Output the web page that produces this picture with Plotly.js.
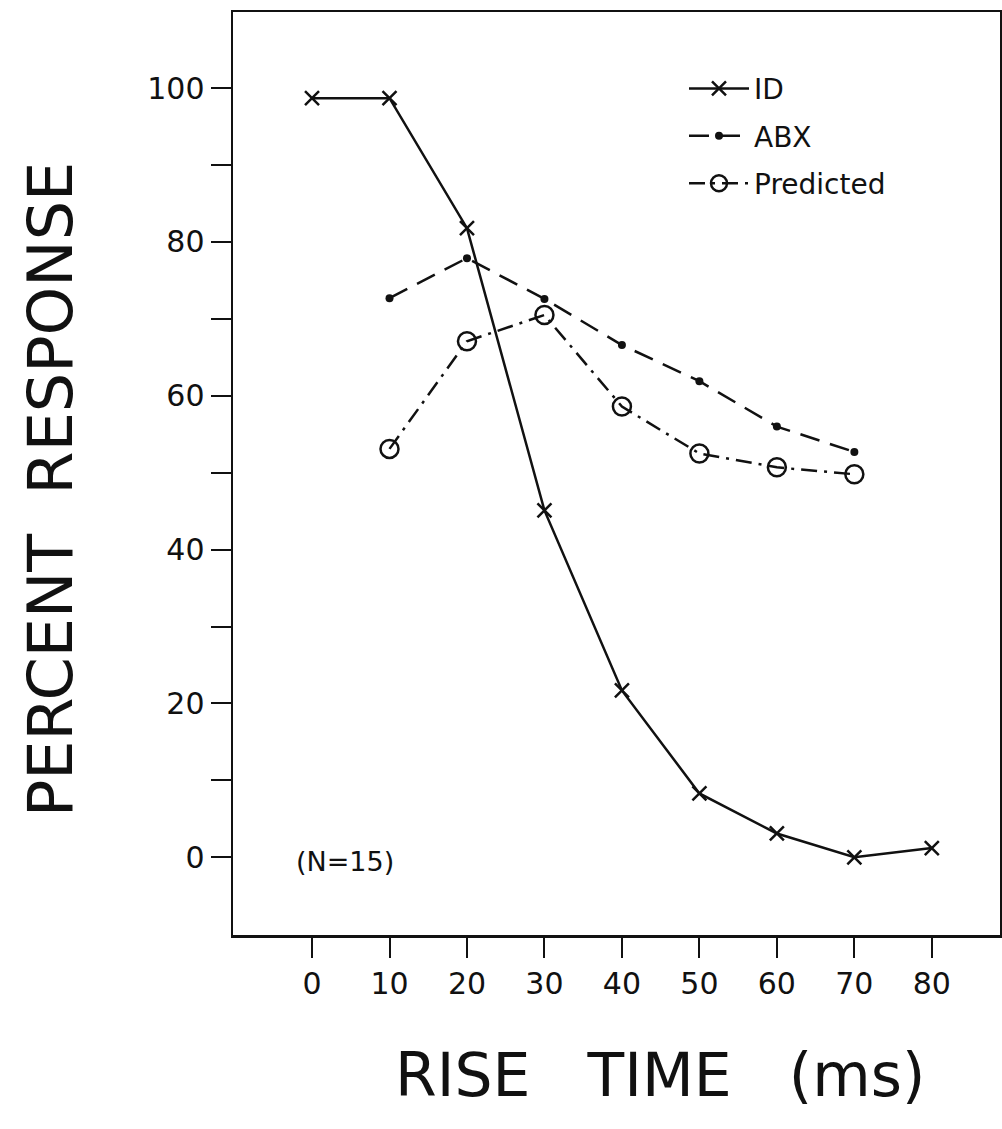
<!DOCTYPE html>
<html>
<head>
<meta charset="utf-8">
<script src="https://cdn.plot.ly/plotly-3.0.1.min.js"></script>
<style>html,body{margin:0;padding:0;background:#fff;}#chart{width:1002px;height:1129px;}</style>
</head>
<body>
<div id="chart"></div>
<script>
var riseTime = [0, 10, 20, 30, 40, 50, 60, 70, 80];
var idValues = [98.7, 98.7, 81.8, 45.1, 21.7, 8.3, 3.1, 0.0, 1.2];
var abxTime = [10, 20, 30, 40, 50, 60, 70];
var abxValues = [72.7, 77.9, 72.6, 66.6, 61.9, 56.0, 52.7];
var predTime = [10, 20, 30, 40, 50, 60, 70];
var predValues = [53.1, 67.1, 70.5, 58.6, 52.5, 50.7, 49.8];
var xTickVals = [0, 10, 20, 30, 40, 50, 60, 70, 80];
var yTickVals = [0, 20, 40, 60, 80, 100];
var yMinorVals = [10, 30, 50, 70, 90];

var FONT = "DejaVu Sans, sans-serif";
var INK = '#111';

var traces = [
  {x: riseTime, y: idValues, name: 'ID', legendgroup: 'a', mode: 'lines+markers', type: 'scatter',
   line: {color: INK, width: 2.5, dash: 'solid'},
   marker: {symbol: 'x-thin-open', size: 14, color: INK, line: {color: INK, width: 2.5}}},
  {x: abxTime, y: abxValues, name: 'ABX', legendgroup: 'b', mode: 'lines+markers', type: 'scatter',
   line: {color: INK, width: 2.5, dash: '20px,11px'},
   marker: {symbol: 'circle', size: 8, color: INK}},
  {x: predTime, y: predValues, name: 'Predicted', legendgroup: 'c', mode: 'lines+markers', type: 'scatter',
   line: {color: INK, width: 2.5, dash: '16px,7px,3px,7px'},
   marker: {symbol: 'circle-open', size: 18, color: INK, line: {color: INK, width: 2.5}}}
];

var layout = {
  width: 1002, height: 1129,
  margin: {l: 233, r: 2, t: 12, b: 194},
  paper_bgcolor: '#fff', plot_bgcolor: '#fff',
  showlegend: true,
  legend: {x: 0.588, y: 0.944, xanchor: 'left', yanchor: 'top',
    font: {family: FONT, size: 28, color: INK}, bgcolor: 'rgba(0,0,0,0)',
    itemwidth: 60, tracegroupgap: 8},
  xaxis: {range: [-10.2, 88.8], tickvals: xTickVals, ticktext: xTickVals.map(String),
    showgrid: false, zeroline: false, showline: true, linecolor: INK, linewidth: 2.5,
    mirror: true, ticks: 'outside', ticklen: 20, tickwidth: 2, tickcolor: INK,
    tickfont: {family: FONT, size: 30, color: INK}},
  yaxis: {range: [-10.1, 109.9], tickvals: yTickVals, ticktext: yTickVals.map(String),
    showgrid: false, zeroline: false, showline: true, linecolor: INK, linewidth: 2.5,
    mirror: true, ticks: 'outside', ticklen: 20, tickwidth: 2, tickcolor: INK,
    minor: {tickmode: 'array', tickvals: yMinorVals, ticks: 'outside', ticklen: 20, tickwidth: 2, tickcolor: INK, showgrid: false},
    tickfont: {family: FONT, size: 30, color: INK}},
  annotations: [
    {x: 4.2, y: -0.6, xref: 'x', yref: 'y', text: '(N=15)', showarrow: false,
     font: {family: FONT, size: 27, color: INK}},
    {x: 0.557, y: 1075, xref: 'paper', yref: 'paper', yanchor: 'middle', xanchor: 'center',
     text: 'RISE\u00a0\u00a0 TIME\u00a0\u00a0 (ms)', showarrow: false,
     font: {family: FONT, size: 60, color: INK}},
    {x: 50, y: 0.482, xref: 'paper', yref: 'paper', xanchor: 'center', yanchor: 'middle',
     text: 'PERCENT\u00a0 RESPONSE', showarrow: false, textangle: -90,
     font: {family: FONT, size: 62, color: INK}}
  ]
};

// convert pixel-based title anchor positions to paper coordinates
var plotW = layout.width - layout.margin.l - layout.margin.r;
var plotH = layout.height - layout.margin.t - layout.margin.b;
layout.annotations[1].y = (layout.height - layout.margin.b - 1075) / plotH;
layout.annotations[2].x = (50 - layout.margin.l) / plotW;

Plotly.newPlot('chart', traces, layout, {displayModeBar: false, staticPlot: true});
</script>
</body>
</html>
